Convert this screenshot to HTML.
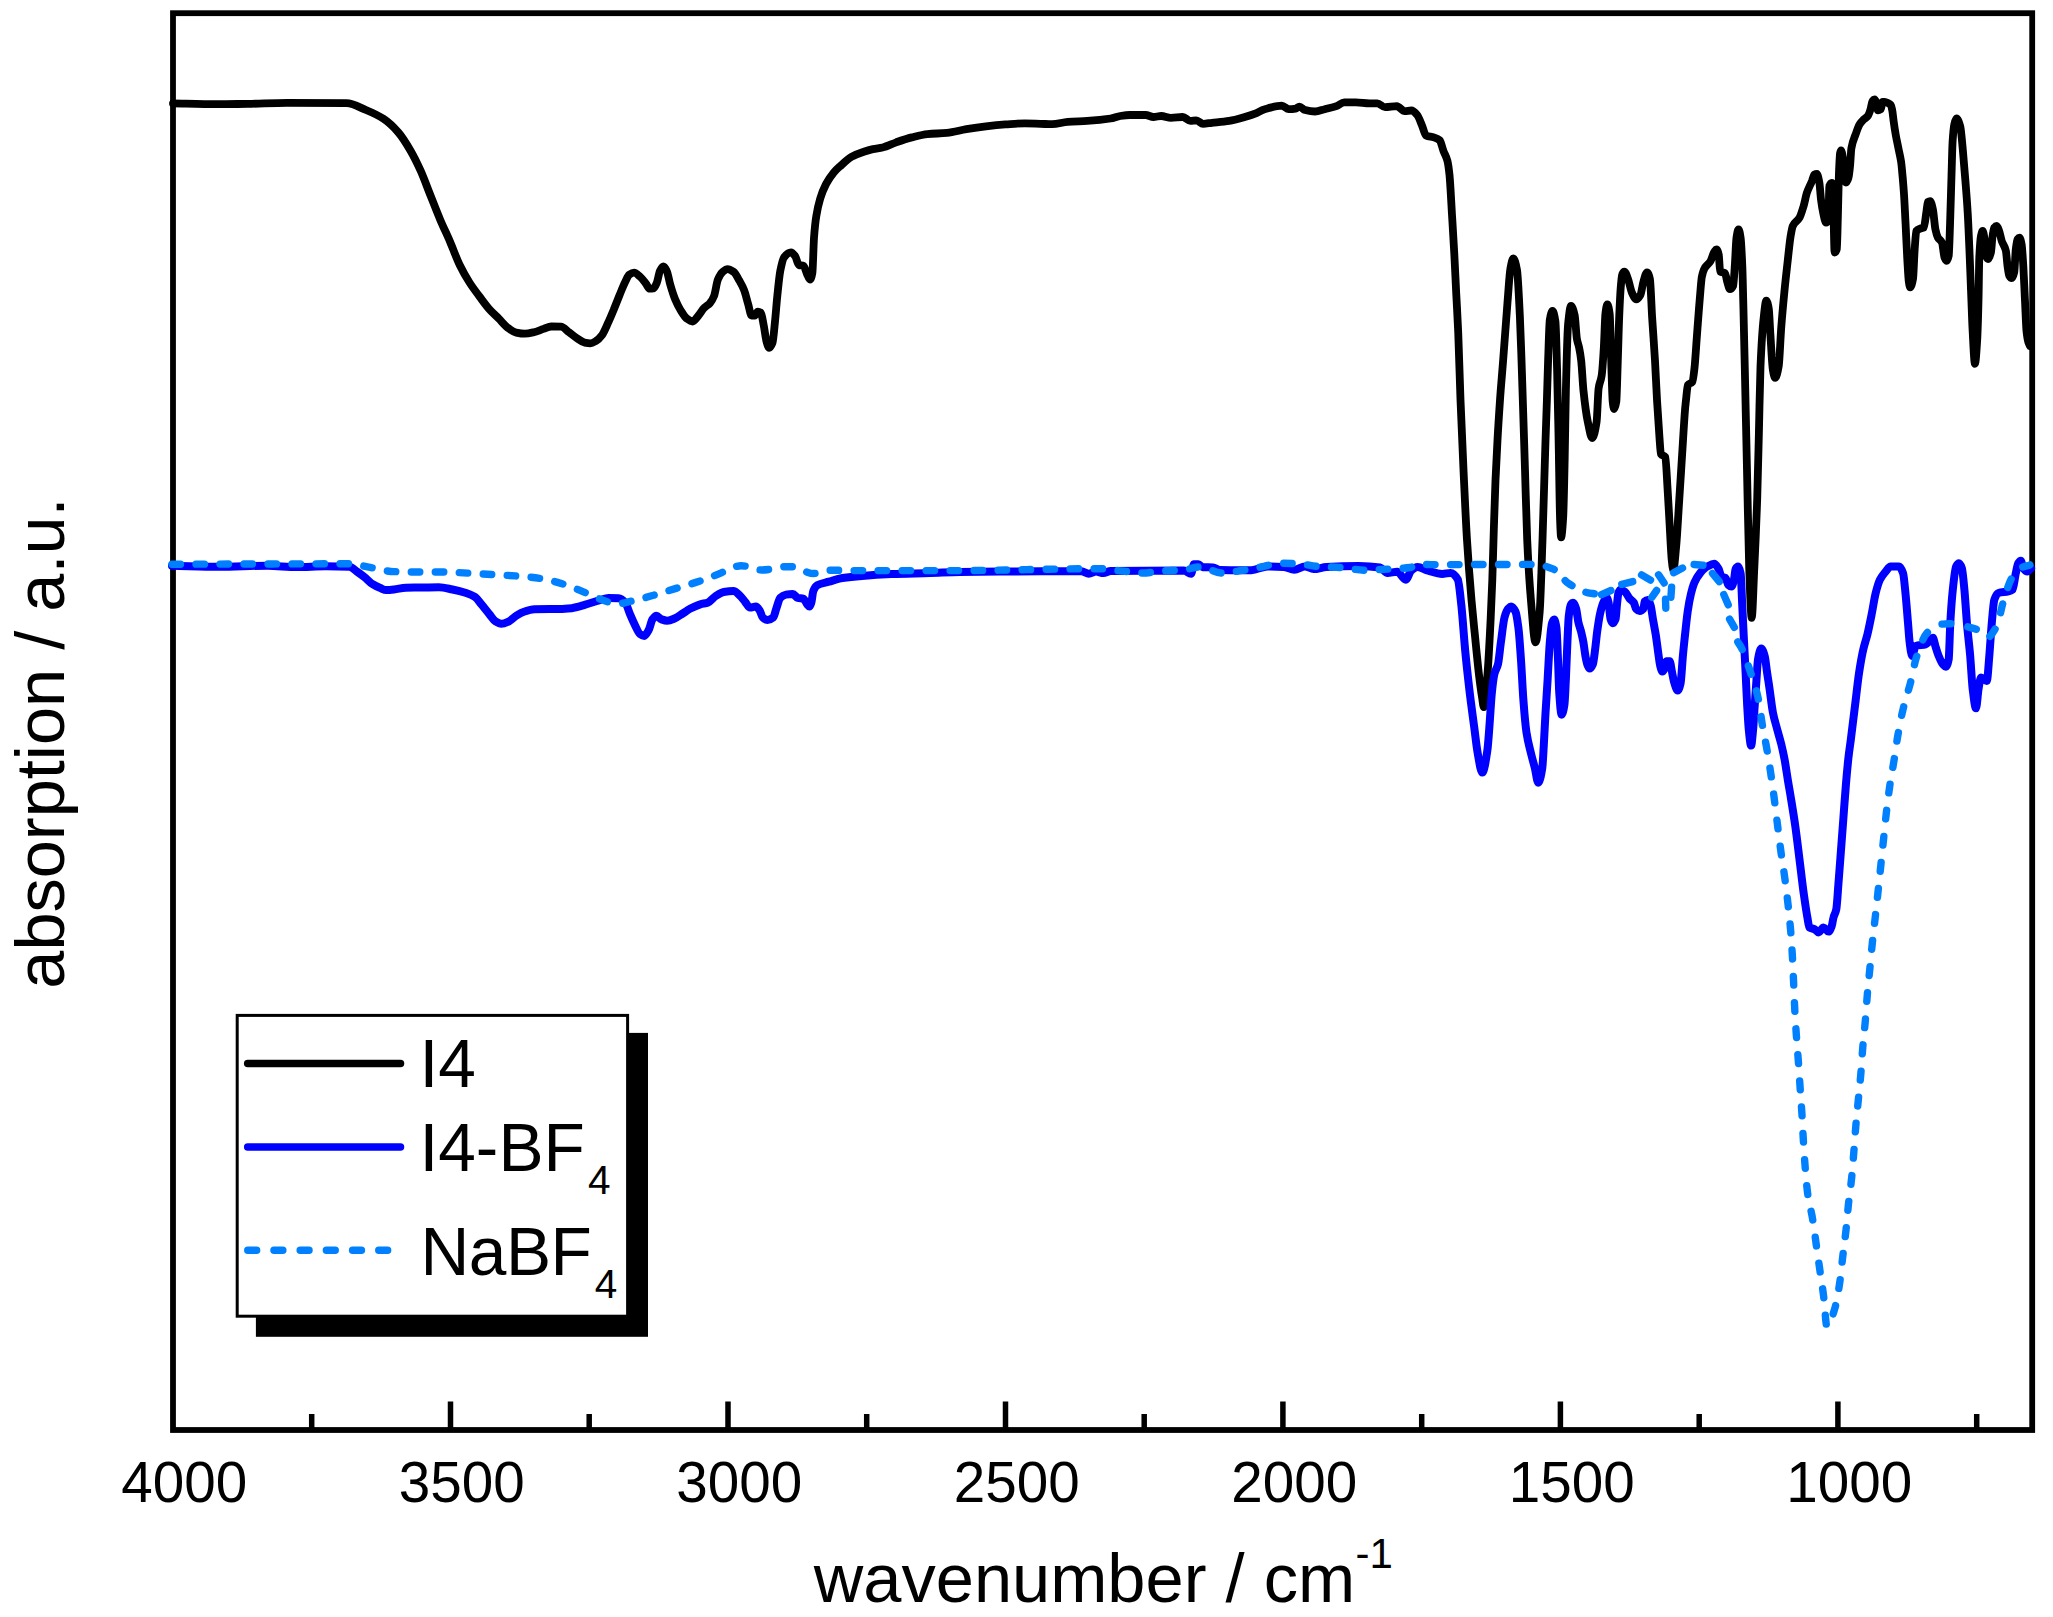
<!DOCTYPE html>
<html><head><meta charset="utf-8"><title>IR spectra</title>
<style>html,body{margin:0;padding:0;background:#fff}svg{display:block}</style></head>
<body>
<svg width="2053" height="1617" viewBox="0 0 2053 1617">
<rect width="2053" height="1617" fill="#fff"/>
<rect x="173" y="13.2" width="1859.2" height="1416.8" fill="none" stroke="#000" stroke-width="5.8"/>
<line x1="450.5" y1="1401.5" x2="450.5" y2="1430" stroke="#000" stroke-width="5.5"/>
<line x1="728.0" y1="1401.5" x2="728.0" y2="1430" stroke="#000" stroke-width="5.5"/>
<line x1="1005.5" y1="1401.5" x2="1005.5" y2="1430" stroke="#000" stroke-width="5.5"/>
<line x1="1282.9" y1="1401.5" x2="1282.9" y2="1430" stroke="#000" stroke-width="5.5"/>
<line x1="1560.4" y1="1401.5" x2="1560.4" y2="1430" stroke="#000" stroke-width="5.5"/>
<line x1="1837.9" y1="1401.5" x2="1837.9" y2="1430" stroke="#000" stroke-width="5.5"/>
<line x1="311.7" y1="1414" x2="311.7" y2="1430" stroke="#000" stroke-width="5.5"/>
<line x1="589.2" y1="1414" x2="589.2" y2="1430" stroke="#000" stroke-width="5.5"/>
<line x1="866.7" y1="1414" x2="866.7" y2="1430" stroke="#000" stroke-width="5.5"/>
<line x1="1144.2" y1="1414" x2="1144.2" y2="1430" stroke="#000" stroke-width="5.5"/>
<line x1="1421.7" y1="1414" x2="1421.7" y2="1430" stroke="#000" stroke-width="5.5"/>
<line x1="1699.2" y1="1414" x2="1699.2" y2="1430" stroke="#000" stroke-width="5.5"/>
<line x1="1976.7" y1="1414" x2="1976.7" y2="1430" stroke="#000" stroke-width="5.5"/>
<g fill="none" stroke-linejoin="round" stroke-linecap="round" stroke-width="8.0">
<path d="M173.0,103.4C187.9,103.7 202.8,104.2 217.7,104.2C227.6,104.2 237.5,104.0 247.4,103.9C260.6,103.7 273.8,102.9 287.0,102.9C306.8,102.9 326.6,103.0 346.4,103.2C352.9,103.3 359.5,107.3 366.0,110.0C371.8,112.4 377.7,115.0 383.5,118.8C388.4,122.0 393.4,126.7 398.3,132.4C402.4,137.1 406.6,143.9 410.7,151.0C414.0,156.7 417.3,163.4 420.6,170.7C423.9,178.0 427.2,187.3 430.5,195.5C433.8,203.7 437.1,212.4 440.4,220.2C443.6,227.7 446.8,234.2 450.0,241.6C453.2,249.1 456.5,258.4 459.7,265.0C463.0,271.7 466.2,277.4 469.5,282.5C472.7,287.6 476.0,291.7 479.2,296.1C482.5,300.5 485.7,305.1 489.0,308.8C492.2,312.4 495.5,315.3 498.7,318.5C502.0,321.8 505.2,326.0 508.5,328.3C511.1,330.1 513.6,332.1 516.2,332.6C519.1,333.2 522.1,333.7 525.0,333.7C527.9,333.7 530.9,332.9 533.8,332.2C537.0,331.5 540.3,329.9 543.5,328.9C546.1,328.1 548.7,326.5 551.3,326.5C554.5,326.5 557.8,326.6 561.0,326.7C563.6,326.8 566.3,330.3 568.9,332.2C571.5,334.1 574.0,336.3 576.6,338.0C579.2,339.7 581.8,341.9 584.4,342.5C586.4,342.9 588.3,343.3 590.3,343.3C592.2,343.3 594.2,342.0 596.1,340.9C598.1,339.8 600.0,337.7 602.0,335.1C603.9,332.5 605.9,327.6 607.8,323.4C609.8,319.2 611.7,314.5 613.7,309.8C615.6,305.1 617.6,299.9 619.5,295.2C621.5,290.4 623.4,285.4 625.4,281.5C626.7,279.0 627.9,275.6 629.2,274.7C630.8,273.6 632.5,272.7 634.1,272.7C636.1,272.7 638.0,274.9 640.0,276.6C641.9,278.2 643.9,281.1 645.8,283.5C647.1,285.1 648.4,288.7 649.7,288.7C651.0,288.7 652.3,288.6 653.6,288.3C654.7,288.1 655.8,285.1 656.9,282.5C657.9,280.0 659.0,272.8 660.0,270.8C661.1,268.7 662.2,266.5 663.3,266.5C664.4,266.5 665.6,268.6 666.7,270.8C667.9,273.0 669.0,280.4 670.2,284.4C671.8,289.9 673.4,295.1 675.0,299.0C677.0,303.8 678.9,307.5 680.9,310.7C682.8,313.8 684.8,317.1 686.7,318.5C688.7,320.0 690.6,321.5 692.6,321.5C694.5,321.5 696.5,317.8 698.4,315.6C700.4,313.3 702.3,309.8 704.3,307.8C706.2,305.8 708.2,305.2 710.1,302.9C711.4,301.4 712.7,299.3 714.0,296.1C715.3,292.9 716.6,282.7 717.9,279.6C719.5,275.8 721.2,273.1 722.8,271.8C724.4,270.5 726.0,269.2 727.6,269.2C729.6,269.2 731.5,270.5 733.5,271.8C735.4,273.1 737.4,277.2 739.3,280.5C740.9,283.3 742.6,286.1 744.2,290.3C745.5,293.6 746.8,299.5 748.1,303.9C749.3,307.9 750.4,315.6 751.6,315.6C752.7,315.6 753.8,315.6 754.9,315.6C755.9,315.6 756.8,311.7 757.8,311.7C758.8,311.7 759.8,312.1 760.8,312.7C761.8,313.3 762.7,320.5 763.7,325.3C764.7,330.1 765.6,338.7 766.6,341.9C767.4,344.7 768.3,347.8 769.1,347.8C770.2,347.8 771.4,345.8 772.5,342.9C773.3,340.8 774.2,329.6 775.0,321.5C775.8,314.1 776.5,303.5 777.3,296.1C778.3,286.5 779.3,275.9 780.3,270.8C781.6,264.3 782.8,258.8 784.1,257.2C786.4,254.3 788.7,252.3 791.0,252.3C792.4,252.3 793.8,254.3 795.2,256.2C796.4,257.8 797.6,264.6 798.8,265.0C800.4,265.6 802.0,265.3 803.6,265.9C804.7,266.3 805.8,271.4 806.9,273.7C807.9,275.9 809.0,279.6 810.0,279.6C810.8,279.6 811.6,277.0 812.4,272.7C812.9,269.8 813.5,244.9 814.0,237.7C814.8,227.4 815.5,221.0 816.3,216.2C817.6,208.1 818.9,203.0 820.2,198.7C822.1,192.3 824.1,187.8 826.0,184.1C828.6,179.2 831.2,175.5 833.8,172.4C835.8,170.1 837.7,168.4 839.7,166.6C843.6,163.1 847.5,159.1 851.4,156.9C855.3,154.7 859.2,153.3 863.1,152.0C866.4,150.9 869.6,149.8 872.9,149.1C876.1,148.4 879.4,148.2 882.6,147.5C887.1,146.5 891.7,143.9 896.2,142.3C901.4,140.5 906.6,138.7 911.8,137.4C917.0,136.1 922.2,134.6 927.4,134.1C933.9,133.5 940.4,133.5 946.9,132.9C953.4,132.3 959.9,130.3 966.4,129.2C972.9,128.1 979.4,127.1 985.9,126.3C992.4,125.5 998.9,124.8 1005.4,124.4C1011.9,124.0 1018.3,123.4 1024.8,123.4C1030.0,123.4 1035.2,123.6 1040.4,123.8C1044.3,123.9 1048.2,124.2 1052.1,124.2C1057.3,124.2 1062.5,122.2 1067.7,121.8C1074.2,121.3 1080.7,121.3 1087.2,120.9C1095.0,120.4 1102.8,119.7 1110.6,118.5C1113.8,118.0 1117.1,116.5 1120.3,116.0C1123.5,115.5 1126.8,115.0 1130.0,115.0C1135.2,115.0 1140.4,115.0 1145.6,115.0C1148.2,115.0 1150.8,117.0 1153.4,117.0C1156.0,117.0 1158.6,116.0 1161.2,116.0C1164.5,116.0 1167.7,117.9 1171.0,117.9C1174.9,117.9 1178.8,117.0 1182.7,117.0C1185.3,117.0 1187.8,120.9 1190.4,120.9C1192.4,120.9 1194.3,120.3 1196.3,120.3C1198.6,120.3 1200.8,123.8 1203.1,123.8C1206.0,123.8 1209.0,123.1 1211.9,122.8C1217.7,122.2 1223.4,121.8 1229.2,120.9C1234.4,120.1 1239.6,118.5 1244.8,117.0C1248.7,115.9 1252.6,114.7 1256.5,113.1C1258.4,112.3 1260.4,110.9 1262.3,110.1C1264.3,109.3 1266.2,108.7 1268.2,108.2C1272.7,107.1 1277.3,105.7 1281.8,105.7C1284.1,105.7 1286.4,109.2 1288.7,109.2C1291.0,109.2 1293.2,109.0 1295.5,108.6C1296.8,108.4 1298.1,106.6 1299.4,106.6C1301.3,106.6 1303.3,109.6 1305.2,110.1C1308.5,110.9 1311.7,111.5 1315.0,111.5C1318.2,111.5 1321.5,110.0 1324.7,109.2C1328.6,108.2 1332.5,107.6 1336.4,106.2C1339.0,105.3 1341.6,102.3 1344.2,102.3C1348.1,102.3 1352.0,102.3 1355.9,102.3C1360.4,102.3 1365.0,103.3 1369.5,103.3C1372.1,103.3 1374.7,103.3 1377.3,103.3C1379.9,103.3 1382.5,107.2 1385.1,107.2C1389.0,107.2 1392.9,106.2 1396.8,106.2C1399.4,106.2 1402.0,111.1 1404.6,111.1C1406.9,111.1 1409.1,110.5 1411.4,110.5C1413.3,110.5 1415.3,112.8 1417.2,115.0C1418.8,116.9 1420.5,121.9 1422.1,125.7C1423.4,128.7 1424.7,134.9 1426.0,135.5C1428.6,136.8 1431.2,136.5 1433.8,137.4C1435.8,138.1 1437.7,138.6 1439.7,140.3C1441.0,141.4 1442.2,147.7 1443.5,151.1C1444.8,154.5 1446.1,155.8 1447.4,160.8C1448.1,163.5 1448.8,168.4 1449.5,175.0C1450.3,182.8 1451.2,201.3 1452.0,215.0C1452.8,227.6 1453.5,239.7 1454.3,254.0C1454.9,265.8 1455.6,280.3 1456.2,293.0C1456.9,306.3 1457.5,316.4 1458.2,332.0C1459.0,349.9 1459.7,379.9 1460.5,400.0C1461.5,426.2 1462.5,448.4 1463.5,470.0C1464.7,495.2 1465.8,521.2 1467.0,540.0C1468.5,564.2 1470.0,582.7 1471.5,600.0C1472.7,613.5 1473.8,624.3 1475.0,636.0C1476.3,649.4 1477.7,663.9 1479.0,675.0C1480.0,683.3 1481.0,690.7 1482.0,697.0C1482.6,700.8 1483.2,707.0 1483.8,707.0C1484.5,707.0 1485.3,696.7 1486.0,690.0C1486.6,684.8 1487.1,679.0 1487.7,671.5C1488.7,658.7 1489.6,639.8 1490.6,620.0C1491.2,608.4 1491.7,595.7 1492.3,580.0C1492.8,566.2 1493.3,545.6 1493.8,530.0C1494.4,512.3 1494.9,493.6 1495.5,480.0C1496.2,464.0 1496.8,451.9 1497.5,440.0C1498.3,425.1 1499.2,411.8 1500.0,400.0C1501.0,385.3 1502.1,374.2 1503.1,360.8C1504.6,341.8 1506.0,320.4 1507.5,302.3C1508.5,290.4 1509.4,274.0 1510.4,268.7C1511.4,263.4 1512.3,258.3 1513.3,258.3C1514.5,258.3 1515.8,263.3 1517.0,270.0C1518.0,275.3 1518.9,296.9 1519.9,316.9C1520.4,327.9 1521.0,344.6 1521.5,360.0C1521.9,372.5 1522.4,386.5 1522.8,400.0C1523.5,422.9 1524.3,446.7 1525.0,470.0C1525.7,493.3 1526.5,523.8 1527.2,540.0C1528.4,566.5 1529.6,584.1 1530.8,598.5C1532.4,617.3 1533.9,642.3 1535.5,642.3C1536.9,642.3 1538.2,628.7 1539.6,613.0C1540.6,601.9 1541.5,567.7 1542.5,540.0C1543.5,512.3 1544.4,473.6 1545.4,443.8C1545.9,428.4 1546.4,415.5 1546.9,400.0C1547.3,387.6 1547.7,372.0 1548.1,360.8C1548.7,344.9 1549.2,323.3 1549.8,319.8C1550.7,314.3 1551.6,311.0 1552.5,311.0C1553.5,311.0 1554.4,314.7 1555.4,321.3C1556.0,325.1 1556.5,349.8 1557.1,370.0C1557.6,387.8 1558.1,415.1 1558.6,440.0C1559.1,464.9 1559.6,507.3 1560.1,520.0C1560.4,528.5 1560.8,537.4 1561.1,537.4C1561.8,537.4 1562.5,528.2 1563.2,516.9C1563.7,508.8 1564.2,481.8 1564.7,458.5C1565.1,439.9 1565.5,406.2 1565.9,390.0C1566.6,360.3 1567.4,332.0 1568.1,324.2C1569.1,313.9 1570.0,306.0 1571.0,306.0C1572.2,306.0 1573.5,310.1 1574.7,315.4C1575.4,318.6 1576.2,334.5 1576.9,338.8C1577.6,343.1 1578.4,344.0 1579.1,347.6C1579.8,351.0 1580.5,354.8 1581.2,360.8C1581.9,367.0 1582.7,382.9 1583.4,390.0C1584.9,404.2 1586.3,414.8 1587.8,421.9C1589.3,429.0 1590.7,438.0 1592.2,438.0C1593.7,438.0 1595.1,431.5 1596.6,421.9C1597.3,417.5 1597.9,393.2 1598.6,388.5C1599.6,381.2 1600.7,382.2 1601.7,375.4C1602.4,370.6 1603.2,358.3 1603.9,346.1C1604.4,337.8 1604.9,318.2 1605.4,314.0C1606.0,308.7 1606.7,304.5 1607.3,304.5C1608.1,304.5 1608.9,308.0 1609.7,314.0C1610.2,317.7 1610.7,346.2 1611.2,360.8C1611.7,375.4 1612.2,397.4 1612.7,401.7C1613.2,405.8 1613.6,409.0 1614.1,409.0C1614.8,409.0 1615.6,406.3 1616.3,401.7C1616.8,398.6 1617.3,375.4 1617.8,360.8C1618.3,347.2 1618.7,328.1 1619.2,316.9C1619.7,304.9 1620.2,293.8 1620.7,287.7C1621.2,281.6 1621.7,275.7 1622.2,274.5C1622.9,272.7 1623.7,271.6 1624.4,271.6C1625.6,271.6 1626.8,275.8 1628.0,278.9C1629.2,282.1 1630.5,289.4 1631.7,292.1C1633.2,295.5 1634.8,299.4 1636.3,299.4C1637.7,299.4 1639.0,297.4 1640.4,295.0C1641.4,293.2 1642.4,285.1 1643.4,281.8C1644.6,277.8 1645.8,272.3 1647.0,272.3C1648.0,272.3 1648.9,274.9 1649.9,278.9C1650.6,282.0 1651.4,305.0 1652.1,316.9C1653.1,332.5 1654.0,344.2 1655.0,360.8C1655.7,372.3 1656.3,388.5 1657.0,400.0C1657.8,413.8 1658.6,426.0 1659.4,436.5C1659.9,443.0 1660.4,453.2 1660.9,454.0C1662.4,456.2 1663.8,454.9 1665.3,457.0C1666.0,458.1 1666.8,476.3 1667.5,487.7C1668.2,498.5 1668.9,512.3 1669.6,524.2C1670.3,536.7 1671.1,554.3 1671.8,560.7C1672.3,565.1 1672.8,570.0 1673.3,570.0C1674.3,570.0 1675.2,556.4 1676.2,546.1C1677.2,535.8 1678.1,517.2 1679.1,502.3C1680.3,483.3 1681.6,463.0 1682.8,443.8C1683.5,432.4 1684.3,418.7 1685.0,410.0C1685.3,406.1 1685.7,403.0 1686.0,400.0C1686.6,394.3 1687.3,385.8 1687.9,384.9C1689.4,382.8 1690.8,383.9 1692.3,381.9C1693.0,380.9 1693.8,374.3 1694.5,368.0C1695.2,361.7 1696.0,348.5 1696.7,338.8C1697.4,329.1 1698.2,318.9 1698.9,309.6C1699.4,302.8 1700.0,295.9 1700.5,290.0C1700.9,285.2 1701.4,279.2 1701.8,277.0C1702.8,272.1 1703.7,269.7 1704.7,268.0C1706.7,264.4 1708.6,264.3 1710.6,261.0C1711.8,259.0 1713.0,253.8 1714.2,252.0C1715.0,250.9 1715.7,249.5 1716.5,249.5C1717.3,249.5 1718.0,251.7 1718.8,255.0C1719.2,256.9 1719.7,271.3 1720.1,271.6C1721.7,272.7 1723.3,272.0 1724.9,273.0C1725.7,273.5 1726.6,279.8 1727.4,282.4C1728.2,284.9 1729.0,289.0 1729.8,289.0C1730.9,289.0 1732.1,288.0 1733.2,285.7C1733.7,284.6 1734.3,273.4 1734.8,265.8C1735.4,257.8 1735.9,241.4 1736.5,237.6C1737.2,233.1 1737.8,229.3 1738.5,229.3C1739.2,229.3 1739.9,233.0 1740.6,237.6C1741.2,241.3 1741.7,252.4 1742.3,265.8C1742.7,274.5 1743.0,292.3 1743.4,307.0C1743.9,325.7 1744.3,347.0 1744.8,368.0C1745.6,403.9 1746.4,443.8 1747.2,480.0C1747.9,510.2 1748.5,549.4 1749.2,568.0C1750.0,591.2 1750.9,617.9 1751.7,617.9C1752.6,617.9 1753.4,586.4 1754.3,568.0C1755.3,547.5 1756.2,528.1 1757.2,498.9C1757.8,481.8 1758.3,455.4 1758.9,432.6C1759.4,411.2 1760.0,378.8 1760.5,366.3C1761.6,340.6 1762.7,326.3 1763.8,316.6C1764.6,309.3 1765.5,300.6 1766.3,300.6C1767.1,300.6 1768.0,304.0 1768.8,308.9C1769.3,311.8 1769.8,325.6 1770.3,333.2C1771.2,346.4 1772.0,365.1 1772.9,370.0C1773.6,374.1 1774.4,377.9 1775.1,377.9C1776.3,377.9 1777.5,373.0 1778.7,366.3C1779.5,361.7 1780.4,338.9 1781.2,328.0C1782.3,313.6 1783.4,301.9 1784.5,290.7C1785.6,279.2 1786.8,269.3 1787.9,259.2C1788.7,251.8 1789.6,242.8 1790.4,237.6C1791.2,232.7 1792.0,227.7 1792.8,226.0C1795.0,221.1 1797.3,221.7 1799.5,217.7C1800.9,215.3 1802.2,210.7 1803.6,206.1C1804.7,202.4 1805.8,196.1 1806.9,192.8C1808.6,187.8 1810.2,185.3 1811.9,181.2C1812.7,179.1 1813.6,175.1 1814.4,174.6C1815.2,174.1 1816.1,173.8 1816.9,173.8C1817.7,173.8 1818.6,178.2 1819.4,182.9C1819.9,185.9 1820.5,195.4 1821.0,199.5C1821.8,205.9 1822.7,210.8 1823.5,214.4C1824.3,218.0 1825.2,222.7 1826.0,222.7C1826.8,222.7 1827.7,221.9 1828.5,219.4C1828.8,218.6 1829.0,187.0 1829.3,186.2C1830.1,183.7 1831.0,182.9 1831.8,182.9C1832.4,182.9 1832.9,201.8 1833.5,216.0C1833.9,225.2 1834.2,252.5 1834.6,252.5C1835.3,252.5 1836.1,251.5 1836.8,249.2C1837.2,248.0 1837.5,228.8 1837.9,216.0C1838.2,204.3 1838.6,183.1 1838.9,174.6C1839.3,164.4 1839.7,154.9 1840.1,153.0C1840.4,151.6 1840.7,150.5 1841.0,150.5C1841.6,150.5 1842.3,154.0 1842.9,158.0C1843.3,160.8 1843.8,173.4 1844.2,176.0C1844.8,179.5 1845.4,182.5 1846.0,182.5C1846.8,182.5 1847.6,180.5 1848.4,178.0C1848.9,176.3 1849.5,171.3 1850.0,166.3C1850.5,161.9 1850.9,150.9 1851.4,148.2C1852.8,140.2 1854.1,138.5 1855.5,134.6C1856.9,130.7 1858.2,126.5 1859.6,124.3C1860.9,122.2 1862.3,120.9 1863.6,119.6C1865.0,118.2 1866.3,117.9 1867.7,116.1C1868.6,114.9 1869.6,112.2 1870.5,109.3C1871.2,107.2 1871.8,102.0 1872.5,101.1C1873.2,100.1 1873.9,99.4 1874.6,99.4C1875.3,99.4 1875.9,101.3 1876.6,103.2C1877.1,104.5 1877.5,110.3 1878.0,110.3C1878.9,110.3 1879.8,109.9 1880.7,109.3C1881.4,108.8 1882.0,101.8 1882.7,101.8C1883.4,101.8 1884.1,101.8 1884.8,101.8C1885.9,101.8 1887.1,102.6 1888.2,103.2C1889.1,103.7 1890.0,104.0 1890.9,105.2C1891.4,105.8 1891.8,108.2 1892.3,110.7C1892.7,113.0 1893.2,117.8 1893.6,120.9C1894.3,125.9 1895.0,130.6 1895.7,134.6C1896.6,139.7 1897.5,143.7 1898.4,148.2C1899.3,152.7 1900.2,155.6 1901.1,161.8C1901.6,165.0 1902.0,170.4 1902.5,175.5C1903.0,180.6 1903.4,185.9 1903.9,192.8C1904.5,201.1 1905.0,213.2 1905.6,224.3C1906.1,234.7 1906.7,248.3 1907.2,257.5C1907.8,267.2 1908.3,278.9 1908.9,282.3C1909.3,284.9 1909.8,287.3 1910.2,287.3C1911.1,287.3 1912.1,284.0 1913.0,279.0C1913.6,275.9 1914.1,257.0 1914.7,249.2C1915.2,241.9 1915.8,231.7 1916.3,231.0C1917.7,229.2 1919.1,229.0 1920.5,228.5C1921.6,228.1 1922.7,228.2 1923.8,227.6C1924.6,227.1 1925.5,218.0 1926.3,212.7C1926.8,209.3 1927.4,202.3 1927.9,201.9C1928.6,201.4 1929.4,201.1 1930.1,201.1C1931.0,201.1 1932.0,205.3 1932.9,209.4C1933.7,213.0 1934.6,225.4 1935.4,229.3C1936.2,233.2 1937.1,236.1 1937.9,237.6C1939.3,240.1 1940.6,239.7 1942.0,242.6C1942.8,244.4 1943.7,255.5 1944.5,257.5C1945.2,259.2 1946.0,260.8 1946.7,260.8C1947.4,260.8 1948.0,258.9 1948.7,255.8C1949.2,253.3 1949.8,231.4 1950.3,216.0C1950.7,204.5 1951.1,188.4 1951.5,175.5C1951.9,163.7 1952.2,147.2 1952.6,141.4C1953.2,132.5 1953.7,126.8 1954.3,124.3C1955.0,121.1 1955.8,118.3 1956.5,118.3C1957.8,118.3 1959.0,121.9 1960.3,126.5C1961.1,129.5 1962.0,141.0 1962.8,149.7C1963.6,158.4 1964.5,168.9 1965.3,179.6C1966.1,189.9 1966.9,199.1 1967.7,212.7C1968.3,222.3 1968.8,236.0 1969.4,249.2C1969.9,261.6 1970.5,276.6 1971.0,290.0C1971.6,304.2 1972.1,321.7 1972.7,332.1C1973.4,345.6 1974.2,363.8 1974.9,363.8C1975.7,363.8 1976.4,352.4 1977.2,340.0C1977.6,333.0 1978.1,317.3 1978.5,300.0C1978.8,289.4 1979.0,263.4 1979.3,257.5C1979.9,245.0 1980.4,238.6 1981.0,235.9C1981.6,233.2 1982.1,231.0 1982.7,231.0C1983.2,231.0 1983.8,234.4 1984.3,237.6C1984.9,241.0 1985.4,254.2 1986.0,255.8C1986.7,257.8 1987.4,259.1 1988.1,259.1C1989.0,259.1 1990.0,256.2 1990.9,252.5C1991.5,250.2 1992.0,239.6 1992.6,235.9C1993.2,232.2 1993.7,228.3 1994.3,227.6C1995.1,226.6 1995.9,226.0 1996.7,226.0C1997.5,226.0 1998.4,228.8 1999.2,231.0C2000.0,233.2 2000.9,238.4 2001.7,240.9C2003.1,245.2 2004.5,245.1 2005.9,250.9C2006.4,253.1 2007.0,262.0 2007.5,265.8C2008.1,269.9 2008.6,274.7 2009.2,275.7C2010.0,277.2 2010.9,278.2 2011.7,278.2C2012.5,278.2 2013.4,275.9 2014.2,272.4C2014.7,270.1 2015.3,253.7 2015.8,249.2C2016.4,244.5 2016.9,240.2 2017.5,239.3C2018.2,238.3 2018.8,237.6 2019.5,237.6C2020.2,237.6 2020.9,240.6 2021.6,244.2C2022.2,247.1 2022.7,256.9 2023.3,265.8C2023.8,274.2 2024.4,288.2 2024.9,298.9C2025.5,310.3 2026.0,327.0 2026.6,332.1C2027.2,337.2 2027.7,340.1 2028.3,342.0C2028.9,343.9 2029.4,344.7 2030.0,346.0" stroke="#000" stroke-width="7.8"/>
<path d="M172.0,565.7C187.6,566.0 203.1,566.7 218.7,566.7C234.9,566.7 251.2,565.7 267.4,565.7C277.1,565.7 286.9,567.1 296.6,567.1C306.4,567.1 316.1,566.3 325.9,566.3C333.7,566.3 341.5,566.4 349.3,566.7C351.9,566.8 354.4,569.8 357.0,571.6C359.6,573.4 362.2,575.3 364.8,577.4C367.4,579.5 370.0,582.5 372.6,584.2C375.2,585.9 377.8,587.1 380.4,588.1C382.4,588.9 384.3,590.1 386.3,590.1C388.9,590.1 391.4,589.8 394.0,589.5C397.9,589.1 401.9,587.8 405.8,587.7C411.6,587.6 417.5,587.6 423.3,587.5C428.5,587.4 433.7,587.2 438.9,587.2C443.4,587.2 448.0,588.6 452.5,589.5C457.1,590.4 461.6,591.5 466.2,593.0C469.1,594.0 472.0,595.0 474.9,596.9C477.2,598.4 479.4,602.0 481.7,604.7C484.3,607.8 486.9,611.3 489.5,614.4C491.5,616.8 493.4,620.1 495.4,621.3C497.3,622.5 499.3,623.8 501.2,623.8C503.8,623.8 506.4,622.5 509.0,621.3C511.6,620.1 514.2,617.0 516.8,615.4C519.4,613.8 522.0,612.3 524.6,611.5C527.8,610.4 531.1,609.3 534.3,609.2C539.5,609.1 544.7,609.0 549.9,609.0C553.3,609.0 556.6,609.0 560.0,609.0C563.9,609.0 567.8,608.6 571.7,608.2C576.2,607.7 580.8,606.0 585.3,604.7C589.9,603.4 594.4,601.7 599.0,600.4C602.2,599.5 605.5,597.9 608.7,597.9C612.0,597.9 615.2,598.0 618.5,598.3C620.8,598.5 623.0,600.3 625.3,602.7C626.9,604.4 628.5,610.7 630.1,614.4C631.7,618.2 633.4,622.0 635.0,625.2C636.6,628.4 638.3,632.7 639.9,633.9C641.3,634.9 642.8,635.9 644.2,635.9C645.7,635.9 647.2,632.7 648.7,630.0C650.0,627.7 651.2,621.0 652.5,619.3C653.8,617.5 655.1,615.8 656.4,615.8C658.0,615.8 659.7,618.7 661.3,619.3C663.3,620.0 665.2,620.7 667.2,620.7C669.8,620.7 672.4,619.4 675.0,618.3C677.6,617.2 680.1,615.1 682.7,613.5C685.3,611.9 687.9,610.0 690.5,608.6C693.8,606.9 697.0,605.3 700.3,604.3C702.9,603.5 705.5,603.4 708.1,602.4C710.7,601.4 713.3,597.5 715.9,595.9C718.5,594.3 721.1,592.4 723.7,592.0C726.9,591.5 730.2,591.1 733.4,591.1C735.7,591.1 737.9,593.9 740.2,595.9C741.8,597.4 743.5,599.9 745.1,601.8C746.7,603.7 748.4,607.6 750.0,607.6C751.9,607.6 753.9,606.6 755.8,606.6C757.1,606.6 758.4,608.6 759.7,610.5C760.7,611.9 761.6,616.5 762.6,617.4C764.2,618.9 765.9,619.9 767.5,619.9C769.4,619.9 771.4,619.0 773.3,617.4C774.3,616.6 775.3,611.4 776.3,608.6C777.6,604.9 778.9,599.2 780.2,597.9C782.1,596.0 784.1,594.9 786.0,594.6C788.3,594.2 790.5,594.0 792.8,594.0C794.4,594.0 796.1,597.5 797.7,597.9C799.6,598.4 801.6,598.2 803.5,598.8C804.8,599.2 806.1,603.2 807.4,604.7C808.1,605.5 808.7,606.6 809.4,606.6C810.0,606.6 810.7,604.6 811.3,602.7C812.0,600.7 812.6,592.8 813.3,591.1C814.6,587.8 815.9,585.9 817.2,585.2C821.1,583.0 825.0,582.8 828.9,581.7C833.4,580.4 838.0,578.7 842.5,578.0C849.0,577.0 855.5,576.4 862.0,575.9C871.7,575.1 881.5,574.5 891.2,574.1C904.2,573.6 917.2,573.4 930.2,573.0C940.1,572.7 950.1,572.2 960.0,572.0C973.3,571.8 986.7,571.7 1000.0,571.6C1027.2,571.4 1054.3,571.3 1081.5,571.3C1083.9,571.3 1086.4,573.8 1088.8,573.8C1091.2,573.8 1093.6,571.6 1096.0,571.6C1098.5,571.6 1100.9,573.0 1103.4,573.0C1105.8,573.0 1108.3,570.9 1110.7,570.9C1135.1,570.5 1159.4,570.4 1183.8,570.4C1186.2,570.4 1188.7,573.8 1191.1,573.8C1192.1,573.8 1193.0,564.3 1194.0,564.3C1195.5,564.3 1196.9,564.3 1198.4,564.3C1199.9,564.3 1201.3,567.1 1202.8,567.2C1206.2,567.4 1209.6,567.3 1213.0,567.5C1215.4,567.6 1217.9,570.0 1220.3,570.1C1223.5,570.2 1226.8,570.2 1230.0,570.2C1237.1,570.2 1244.3,570.2 1251.4,570.2C1256.8,570.2 1262.1,566.4 1267.5,566.4C1272.9,566.4 1278.2,566.6 1283.6,567.0C1287.2,567.2 1290.7,569.7 1294.3,569.7C1297.9,569.7 1301.4,566.4 1305.0,566.4C1307.9,566.4 1310.7,569.1 1313.6,569.1C1317.9,569.1 1322.1,567.3 1326.4,567.0C1337.1,566.3 1347.9,565.9 1358.6,565.9C1365.7,565.9 1372.9,566.4 1380.0,567.5C1382.5,567.9 1385.0,572.9 1387.5,572.9C1390.7,572.9 1394.0,571.8 1397.2,571.8C1400.0,571.8 1402.9,579.8 1405.7,579.8C1407.5,579.8 1409.3,572.3 1411.1,570.7C1413.2,568.8 1415.4,567.0 1417.5,567.0C1421.1,567.0 1424.6,569.7 1428.2,570.7C1432.9,572.0 1437.5,573.9 1442.2,573.9C1445.0,573.9 1447.7,572.9 1450.5,572.9C1452.9,572.9 1455.4,575.2 1457.8,579.5C1459.0,581.6 1460.2,595.0 1461.4,605.8C1462.6,616.9 1463.9,636.6 1465.1,649.6C1466.5,664.7 1468.0,677.8 1469.4,690.0C1471.0,703.6 1472.6,714.8 1474.2,727.0C1475.3,735.4 1476.4,745.9 1477.5,752.0C1479.1,760.9 1480.7,772.6 1482.3,772.6C1484.0,772.6 1485.7,761.8 1487.4,750.2C1488.1,745.2 1488.9,733.3 1489.6,723.9C1490.3,714.5 1491.1,700.6 1491.8,693.4C1492.6,685.2 1493.5,677.9 1494.3,674.4C1495.5,669.3 1496.8,669.3 1498.0,664.2C1499.0,660.2 1499.9,649.3 1500.9,642.3C1502.1,633.6 1503.3,621.8 1504.5,617.5C1505.7,613.1 1507.0,610.1 1508.2,608.7C1509.2,607.6 1510.1,606.5 1511.1,606.5C1512.6,606.5 1514.0,608.7 1515.5,611.6C1516.5,613.5 1517.4,620.2 1518.4,627.7C1519.3,634.4 1520.1,647.6 1521.0,660.0C1521.8,671.4 1522.6,689.6 1523.4,700.0C1524.4,713.5 1525.5,725.9 1526.5,732.7C1528.1,743.2 1529.7,748.0 1531.3,754.6C1532.5,759.4 1533.6,763.1 1534.8,767.8C1535.9,772.4 1537.1,782.7 1538.2,782.7C1539.6,782.7 1540.9,776.7 1542.3,767.8C1542.8,764.6 1543.3,753.4 1543.8,745.0C1544.3,736.1 1544.9,724.2 1545.4,715.0C1546.1,702.3 1546.9,692.1 1547.6,680.0C1548.3,667.9 1549.1,650.7 1549.8,642.3C1550.5,633.9 1551.3,625.4 1552.0,623.3C1552.7,621.2 1553.5,619.6 1554.2,619.6C1554.9,619.6 1555.7,623.0 1556.4,627.7C1556.9,630.9 1557.4,645.8 1557.9,657.0C1558.4,667.4 1558.8,686.8 1559.3,693.4C1560.1,704.3 1560.8,714.7 1561.6,714.7C1562.5,714.7 1563.5,710.8 1564.4,705.0C1564.9,701.9 1565.4,689.0 1565.9,678.8C1566.4,668.6 1566.9,652.9 1567.4,642.3C1567.9,632.4 1568.3,620.0 1568.8,616.0C1569.5,609.7 1570.3,605.3 1571.0,604.3C1571.6,603.4 1572.3,602.8 1572.9,602.8C1574.0,602.8 1575.0,605.6 1576.1,608.7C1576.8,610.8 1577.6,618.5 1578.3,621.8C1579.3,626.2 1580.2,628.2 1581.2,632.1C1581.9,635.1 1582.7,638.3 1583.4,642.3C1584.1,646.3 1584.9,653.2 1585.6,656.9C1586.3,660.6 1587.1,664.0 1587.8,665.7C1588.4,667.1 1589.0,668.6 1589.6,668.6C1590.7,668.6 1591.8,666.8 1592.9,664.2C1593.6,662.5 1594.4,655.1 1595.1,649.6C1595.8,644.1 1596.6,635.9 1597.3,630.6C1598.3,623.7 1599.2,617.2 1600.2,613.1C1601.4,607.9 1602.7,603.6 1603.9,601.4C1604.9,599.7 1605.8,597.7 1606.8,597.7C1607.4,597.7 1608.0,600.3 1608.6,602.8C1609.2,605.5 1609.9,616.8 1610.5,618.9C1611.2,621.3 1612.0,623.3 1612.7,623.3C1613.7,623.3 1614.6,621.7 1615.6,618.9C1616.1,617.5 1616.5,608.5 1617.0,604.3C1617.5,599.8 1618.0,593.8 1618.5,592.6C1619.2,590.9 1620.0,589.7 1620.7,589.7C1622.2,589.7 1623.6,590.8 1625.1,591.9C1626.6,593.0 1628.0,596.8 1629.5,598.5C1631.0,600.2 1632.4,600.5 1633.9,602.8C1634.6,603.9 1635.3,608.0 1636.0,608.7C1637.2,610.0 1638.5,610.9 1639.7,610.9C1640.9,610.9 1642.2,610.2 1643.4,608.7C1643.9,608.1 1644.3,601.9 1644.8,601.4C1645.8,600.4 1646.7,599.9 1647.7,599.9C1648.7,599.9 1649.7,602.8 1650.7,605.8C1651.4,608.0 1652.2,614.7 1652.9,618.9C1653.9,624.5 1654.8,628.9 1655.8,635.0C1656.5,639.7 1657.3,646.0 1658.0,651.1C1658.7,656.2 1659.5,662.9 1660.2,665.7C1660.9,668.5 1661.7,671.5 1662.4,671.5C1663.1,671.5 1663.8,670.0 1664.5,668.6C1665.2,667.2 1666.0,661.3 1666.7,661.3C1667.7,661.3 1668.7,661.3 1669.7,661.3C1670.4,661.3 1671.2,668.0 1671.9,671.5C1672.6,674.8 1673.3,679.5 1674.0,681.8C1675.2,685.9 1676.5,690.5 1677.7,690.5C1678.7,690.5 1679.6,687.3 1680.6,683.2C1681.3,680.1 1682.1,664.9 1682.8,656.9C1683.5,648.9 1684.3,641.8 1685.0,635.0C1686.0,626.1 1686.9,616.5 1687.9,610.1C1688.9,603.5 1689.9,598.2 1690.9,594.1C1692.1,589.2 1693.3,585.1 1694.5,582.4C1696.4,578.1 1698.4,575.2 1700.3,572.9C1702.8,570.0 1705.2,567.6 1707.7,566.3C1709.9,565.1 1712.0,563.8 1714.2,563.8C1715.6,563.8 1717.0,566.3 1718.4,568.5C1719.5,570.2 1720.5,575.8 1721.6,576.5C1723.0,577.5 1724.3,577.1 1725.7,578.1C1726.5,578.7 1727.4,584.1 1728.2,584.8C1729.3,585.7 1730.4,586.4 1731.5,586.4C1732.3,586.4 1733.2,583.1 1734.0,579.8C1734.5,577.7 1735.1,570.0 1735.6,569.0C1736.4,567.5 1737.3,566.5 1738.1,566.5C1738.9,566.5 1739.8,569.1 1740.6,573.2C1741.2,576.0 1741.7,594.9 1742.3,606.3C1742.8,617.0 1743.4,628.8 1743.9,639.5C1744.5,650.9 1745.0,661.2 1745.6,672.6C1746.1,683.3 1746.7,696.6 1747.2,705.8C1747.8,715.5 1748.3,725.4 1748.9,730.7C1749.6,737.6 1750.4,745.6 1751.1,745.6C1751.7,745.6 1752.4,737.2 1753.0,730.7C1753.6,724.9 1754.1,714.1 1754.7,705.8C1755.3,697.5 1755.8,688.8 1756.4,680.9C1756.9,673.4 1757.5,662.4 1758.0,659.4C1759.1,653.2 1760.2,648.6 1761.3,648.6C1762.4,648.6 1763.6,652.1 1764.7,656.0C1765.5,658.7 1766.3,667.2 1767.1,672.6C1767.9,678.2 1768.8,683.5 1769.6,689.2C1770.7,696.7 1771.8,706.8 1772.9,712.4C1774.3,719.6 1775.7,723.7 1777.1,729.0C1778.5,734.2 1779.8,738.3 1781.2,743.9C1782.3,748.4 1783.4,753.2 1784.5,759.0C1785.6,765.0 1786.8,773.5 1787.9,780.4C1788.7,785.4 1789.6,789.9 1790.4,795.0C1792.0,804.9 1793.7,814.7 1795.3,826.3C1796.7,836.2 1798.1,848.3 1799.5,859.5C1800.9,870.4 1802.2,882.7 1803.6,892.6C1804.9,901.8 1806.1,910.5 1807.4,917.5C1808.1,921.2 1808.7,926.9 1809.4,927.4C1811.1,928.6 1812.7,928.3 1814.4,929.1C1815.8,929.8 1817.1,932.4 1818.5,932.4C1820.2,932.4 1821.8,927.4 1823.5,927.4C1825.2,927.4 1826.8,931.6 1828.5,931.6C1829.6,931.6 1830.7,928.8 1831.8,925.8C1832.4,924.3 1832.9,919.6 1833.5,917.5C1834.4,914.0 1835.4,913.8 1836.3,909.2C1837.0,905.8 1837.7,893.0 1838.4,884.3C1839.2,873.9 1840.1,862.2 1840.9,851.2C1841.7,840.2 1842.6,829.0 1843.4,818.0C1844.2,807.0 1845.1,794.8 1845.9,784.9C1846.7,775.0 1847.6,765.4 1848.4,758.0C1849.2,750.6 1850.1,745.4 1850.9,738.9C1852.3,728.2 1853.6,716.8 1855.0,705.8C1856.4,694.8 1857.7,681.6 1859.1,672.6C1860.5,663.4 1861.9,655.5 1863.3,649.4C1864.7,643.4 1866.0,640.1 1867.4,634.5C1868.8,628.7 1870.2,621.6 1871.6,614.6C1873.0,607.8 1874.3,598.4 1875.7,593.0C1877.1,587.5 1878.5,582.6 1879.9,579.8C1881.8,575.9 1883.8,573.8 1885.7,571.5C1887.3,569.6 1889.0,566.5 1890.6,566.5C1893.4,566.5 1896.1,566.5 1898.9,566.5C1900.3,566.5 1901.7,569.2 1903.1,573.2C1903.9,575.6 1904.8,586.4 1905.6,594.7C1906.4,602.7 1907.2,613.5 1908.0,622.9C1908.6,629.5 1909.1,638.6 1909.7,642.8C1910.5,649.0 1911.4,656.0 1912.2,656.0C1913.3,656.0 1914.4,646.5 1915.5,646.1C1918.8,644.8 1922.2,645.4 1925.5,644.4C1926.9,644.0 1928.2,642.3 1929.6,641.1C1930.7,640.1 1931.8,637.8 1932.9,637.8C1933.7,637.8 1934.6,643.5 1935.4,646.1C1936.5,649.6 1937.6,653.4 1938.7,656.0C1940.1,659.4 1941.5,662.8 1942.9,664.3C1944.0,665.5 1945.1,666.8 1946.2,666.8C1947.0,666.8 1947.9,664.0 1948.7,659.4C1949.2,656.4 1949.8,632.0 1950.3,622.9C1951.1,608.6 1952.0,597.5 1952.8,589.7C1953.9,579.4 1955.0,568.7 1956.1,566.5C1957.0,564.7 1958.0,563.2 1958.9,563.2C1959.9,563.2 1960.9,565.3 1961.9,568.2C1962.7,570.6 1963.6,581.0 1964.4,589.7C1965.2,598.4 1966.1,613.3 1966.9,622.9C1968.0,635.6 1969.1,643.3 1970.2,656.0C1971.0,665.6 1971.9,682.4 1972.7,689.2C1973.8,698.2 1974.9,708.3 1976.0,708.3C1976.8,708.3 1977.7,694.0 1978.5,689.2C1979.3,684.4 1980.2,677.6 1981.0,677.6C1982.9,677.6 1984.9,680.9 1986.8,680.9C1987.6,680.9 1988.5,665.5 1989.3,656.0C1990.1,646.5 1991.0,632.0 1991.8,622.9C1992.6,613.8 1993.5,602.2 1994.3,599.7C1995.7,595.7 1997.0,593.4 1998.4,593.0C2001.7,591.9 2005.1,592.2 2008.4,591.4C2009.8,591.1 2011.1,590.8 2012.5,589.7C2013.6,588.8 2014.7,578.1 2015.8,573.2C2016.6,569.5 2017.5,564.5 2018.3,563.2C2019.1,561.9 2020.0,560.7 2020.8,560.7C2021.6,560.7 2022.5,567.1 2023.3,568.2C2024.7,570.0 2026.0,571.5 2027.4,571.5C2028.6,571.5 2029.8,569.3 2031.0,568.2" stroke="#0000ff"/>
<path d="M172.0,564.2C231.1,564.1 290.2,563.8 349.3,563.8C355.8,563.8 362.2,566.0 368.7,567.1C377.1,568.6 385.6,571.4 394.0,571.6C402.5,571.8 410.9,572.0 419.4,572.0C427.2,572.0 435.0,572.0 442.8,572.0C451.2,572.0 459.7,572.7 468.1,573.1C475.9,573.5 483.7,574.0 491.5,574.5C499.9,575.0 508.4,575.4 516.8,576.0C524.6,576.6 532.4,577.3 540.2,578.4C548.0,579.5 555.8,581.8 563.6,584.2C571.2,586.5 578.7,590.0 586.3,593.0C593.4,595.8 600.6,600.1 607.7,601.8C611.3,602.6 614.9,603.7 618.5,603.7C622.7,603.7 626.9,602.1 631.1,601.2C638.6,599.5 646.0,597.4 653.5,595.3C661.3,593.1 669.1,590.5 676.9,588.1C684.4,585.8 691.8,583.8 699.3,581.3C706.4,578.9 713.6,576.2 720.7,573.1C724.3,571.5 727.9,568.7 731.5,567.7C734.7,566.8 738.0,565.7 741.2,565.7C748.0,565.7 754.9,570.0 761.7,570.0C765.9,570.0 770.1,569.3 774.3,568.7C777.6,568.2 780.8,566.7 784.1,566.7C787.3,566.7 790.6,566.7 793.8,566.7C797.7,566.7 801.6,570.4 805.5,571.6C808.1,572.4 810.7,573.5 813.3,573.5C818.5,573.5 823.7,570.2 828.9,570.2C837.7,570.2 846.4,570.6 855.2,570.6C888.0,570.6 920.8,570.6 953.6,570.6C1002.1,570.6 1050.5,568.7 1099.0,568.7C1106.3,568.7 1113.7,570.2 1121.0,570.9C1128.3,571.6 1135.6,573.0 1142.9,573.0C1149.7,573.0 1156.6,571.3 1163.4,570.9C1169.7,570.5 1176.0,570.5 1182.3,570.1C1188.2,569.7 1194.0,566.9 1199.9,566.9C1207.2,566.9 1214.5,573.0 1221.8,573.0C1228.6,573.0 1235.5,571.4 1242.3,570.4C1248.6,569.5 1254.8,568.2 1261.1,567.0C1267.5,565.8 1274.0,563.2 1280.4,563.2C1286.5,563.2 1292.5,563.5 1298.6,563.8C1305.0,564.1 1311.5,565.9 1317.9,566.4C1325.4,566.9 1332.9,567.0 1340.4,567.5C1348.6,568.1 1356.8,570.2 1365.0,570.2C1372.5,570.2 1380.0,569.5 1387.5,569.1C1395.0,568.7 1402.5,568.5 1410.0,567.5C1412.5,567.2 1415.0,564.3 1417.5,564.3C1422.2,564.3 1426.8,564.6 1431.5,564.6C1437.7,564.6 1443.8,564.6 1450.0,564.6C1478.4,564.6 1506.8,564.4 1535.2,564.4C1541.3,564.4 1547.4,566.6 1553.5,569.2C1558.4,571.2 1563.2,579.9 1568.1,583.1C1574.4,587.3 1580.8,591.2 1587.1,592.6C1590.1,593.3 1593.0,593.5 1596.0,594.0" stroke="#0080ff" stroke-width="7.4" stroke-dasharray="8.5 15.5"/>
<path d="M1601.4,594.6L1610.9,590.5" stroke="#0080ff" stroke-width="7.4"/>
<path d="M1621.8,584.3L1632.7,581.6" stroke="#0080ff" stroke-width="7.4"/>
<path d="M1641.6,574.8L1650.5,580.2" stroke="#0080ff" stroke-width="7.4"/>
<path d="M1658.6,574.8L1664.1,583" stroke="#0080ff" stroke-width="7.4"/>
<path d="M1651.8,597.3L1656.6,590.5" stroke="#0080ff" stroke-width="7.4"/>
<path d="M1670.9,597.3L1671.6,587.1" stroke="#0080ff" stroke-width="7.4"/>
<path d="M1665.8,608.2L1665.5,599.3" stroke="#0080ff" stroke-width="7.4"/>
<path d="M1673.6,572.7L1682.5,568" stroke="#0080ff" stroke-width="7.4"/>
<path d="M1694.1,564.5L1703,565.2" stroke="#0080ff" stroke-width="7.4"/>
<path d="M1712.5,573.4L1719.3,581.6" stroke="#0080ff" stroke-width="7.4"/>
<path d="M1723.8,594.6L1728.2,604.8" stroke="#0080ff" stroke-width="7.4"/>
<path d="M1729.6,619.1L1734.3,627.3" stroke="#0080ff" stroke-width="7.4"/>
<path d="M1737.8,642.0C1739.0,643.9 1740.2,645.5 1741.4,647.8C1744.5,653.8 1747.5,663.4 1750.6,672.6C1753.1,680.0 1755.5,686.4 1758.0,697.5C1759.4,703.8 1760.8,715.8 1762.2,724.0C1763.8,733.5 1765.5,741.0 1767.1,750.5C1768.5,758.7 1769.9,767.5 1771.3,777.1C1772.4,784.6 1773.5,792.9 1774.6,801.4C1775.7,809.9 1776.8,819.3 1777.9,828.0C1779.0,836.7 1780.1,845.7 1781.2,853.7C1782.5,862.9 1783.7,869.9 1785.0,879.4C1786.1,887.4 1787.1,896.1 1788.2,905.9C1789.1,913.8 1789.9,921.7 1790.8,932.4C1791.4,939.4 1791.9,947.8 1792.5,958.1C1792.9,965.4 1793.3,975.5 1793.7,984.6C1794.1,992.9 1794.4,1003.3 1794.8,1010.3C1795.4,1021.1 1795.9,1029.0 1796.5,1037.1C1797.2,1046.6 1797.8,1053.7 1798.5,1063.1C1799.1,1071.1 1799.6,1080.7 1800.2,1089.1C1800.8,1098.0 1801.4,1105.3 1802.0,1115.1C1802.5,1122.7 1802.9,1133.3 1803.4,1141.0C1804.0,1150.9 1804.6,1160.0 1805.2,1167.5C1806.0,1177.5 1806.8,1187.2 1807.6,1193.0C1809.3,1205.1 1810.9,1209.0 1812.6,1219.0C1813.8,1226.4 1815.1,1236.3 1816.3,1245.0C1817.5,1253.7 1818.8,1262.4 1820.0,1271.0C1821.2,1279.6 1822.5,1287.0 1823.7,1296.9C1824.8,1305.4 1825.8,1326.6 1826.9,1326.6C1829.6,1326.6 1832.2,1317.0 1834.9,1308.1C1836.5,1302.7 1838.2,1293.1 1839.8,1282.1C1840.8,1275.4 1841.8,1264.5 1842.8,1256.1C1843.9,1247.2 1844.9,1239.9 1846.0,1230.1C1846.8,1222.4 1847.7,1211.4 1848.5,1203.7C1849.6,1193.8 1850.6,1187.9 1851.7,1177.4C1852.4,1170.2 1853.2,1160.2 1853.9,1151.0C1854.6,1142.7 1855.2,1132.7 1855.9,1125.0C1856.7,1115.3 1857.6,1107.7 1858.4,1099.0C1859.2,1090.3 1860.1,1082.9 1860.9,1073.0C1861.5,1065.5 1862.2,1054.5 1862.8,1047.0C1863.6,1037.1 1864.5,1030.6 1865.3,1021.0C1866.0,1012.9 1866.7,1001.9 1867.4,993.8C1868.2,984.2 1869.1,976.7 1869.9,968.1C1870.7,959.5 1871.6,950.4 1872.4,942.4C1873.4,932.9 1874.4,924.8 1875.4,915.8C1876.3,907.4 1877.3,898.8 1878.2,890.1C1879.1,881.4 1880.1,872.5 1881.0,863.6C1881.9,855.1 1882.8,846.4 1883.7,837.9C1884.6,829.0 1885.6,819.4 1886.5,811.4C1887.6,802.0 1888.7,793.2 1889.8,785.7C1891.2,776.2 1892.6,769.2 1894.0,760.5C1895.4,752.0 1896.7,741.7 1898.1,734.0C1899.8,724.6 1901.4,716.1 1903.1,709.1C1905.6,698.7 1908.0,692.3 1910.5,682.6C1912.4,675.0 1914.4,663.7 1916.3,657.7C1919.9,646.6 1923.5,636.8 1927.1,632.8C1931.0,628.6 1934.8,625.0 1938.7,624.5C1942.0,624.0 1945.4,623.7 1948.7,623.7C1954.2,623.7 1959.8,625.0 1965.3,626.2C1970.8,627.4 1976.3,628.7 1981.8,632.0C1983.5,633.0 1985.1,637.8 1986.8,637.8C1990.1,637.8 1993.4,632.3 1996.7,626.2C1998.9,622.1 2001.2,608.5 2003.4,601.3C2006.2,592.4 2008.9,582.7 2011.7,578.1C2014.5,573.5 2017.2,569.7 2020.0,568.2C2023.3,566.5 2026.6,566.0 2029.9,564.9" stroke="#0080ff" stroke-width="7.4" stroke-dasharray="8.8 17.4"/>
</g>
<rect x="255.9" y="1032.9" width="392.1" height="303.9" fill="#000"/>
<rect x="237.2" y="1015.4" width="390.4" height="300.8" fill="#fff" stroke="#000" stroke-width="3"/>
<g fill="none" stroke-linecap="round" stroke-width="7.5">
<path d="M247.7,1063.4H400.5" stroke="#000"/>
<path d="M247.7,1147H400.5" stroke="#0000ff"/>
<path d="M247.8,1250.3H392" stroke="#0080ff" stroke-dasharray="8.8 17.4"/>
</g>
<g font-family="Liberation Sans, Arial, sans-serif" fill="#000">
<text x="419.5" y="1086.9" font-size="67.6">I4</text>
<text x="419.5" y="1170.7" font-size="67.6">I4-BF<tspan font-size="40.5" dy="23.1" dx="3.2">4</tspan></text>
<text x="420.5" y="1274.5" font-size="67.6" letter-spacing="-0.5">NaBF<tspan font-size="40.5" dy="23.1" dx="3.5">4</tspan></text>
<text x="184.3" y="1502.3" font-size="56.6" text-anchor="middle">4000</text>
<text x="461.8" y="1502.3" font-size="56.6" text-anchor="middle">3500</text>
<text x="739.3" y="1502.3" font-size="56.6" text-anchor="middle">3000</text>
<text x="1016.8" y="1502.3" font-size="56.6" text-anchor="middle">2500</text>
<text x="1294.2" y="1502.3" font-size="56.6" text-anchor="middle">2000</text>
<text x="1571.7" y="1502.3" font-size="56.6" text-anchor="middle">1500</text>
<text x="1849.2" y="1502.3" font-size="56.6" text-anchor="middle">1000</text>
<text x="813.8" y="1601.8" font-size="68.6">wavenumber / cm<tspan font-size="42" x="1355.5" y="1567.7">-1</tspan></text>
<text transform="translate(63.6,988.7) rotate(-90)" font-size="68.5">absorption / a.u.</text>
</g>
</svg>
</body></html>
